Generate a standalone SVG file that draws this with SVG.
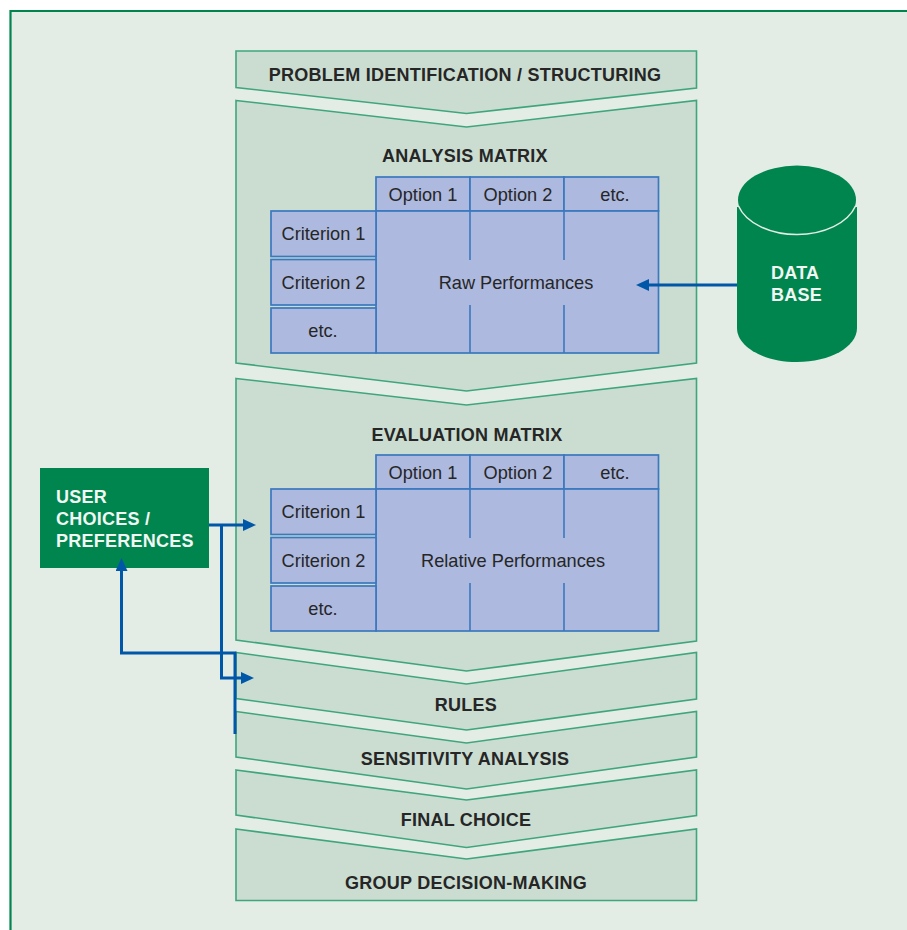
<svg xmlns="http://www.w3.org/2000/svg" width="907" height="930" viewBox="0 0 907 930">
<style>
text{font-family:"Liberation Sans",Arial,sans-serif;fill:#262626;text-anchor:middle}
.h{font-size:18px;font-weight:bold;letter-spacing:.25px}
.c{font-size:18.200px}
.w{font-size:18px;font-weight:bold;letter-spacing:.25px;fill:#f2f7f3;text-anchor:start}
.s{fill:#cbddd1;stroke:#3fa67c;stroke-width:1.6}
.b{fill:#adb9de;stroke:#3a78bf;stroke-width:1.7}
.d{fill:none;stroke:#3a78bf;stroke-width:1.6}
.g{fill:#00854f}
.a{fill:none;stroke:#0057a8;stroke-width:3}
</style>
<defs>
<marker id="ah" markerUnits="userSpaceOnUse" markerWidth="14" markerHeight="13" refX="7" refY="6" orient="auto"><path d="M0 0L13 6L0 12z" fill="#0057a8"/></marker>
<g id="matrix">
<rect class="b" x="376" y="177" width="94" height="34"/><rect class="b" x="470" y="177" width="94" height="34"/><rect class="b" x="564" y="177" width="94.500" height="34"/>
<rect class="b" x="376" y="211" width="282.500" height="142"/>
<rect class="b" x="271" y="211" width="105" height="45.500"/><rect class="b" x="271" y="259.500" width="105" height="45.500"/><rect class="b" x="271" y="308" width="105" height="45"/>
<path class="d" d="M470 211V260M564 211V260M470 305V353M564 305V353"/>
<text class="c" x="423" y="201">Option 1</text><text class="c" x="518" y="201">Option 2</text><text class="c" x="615" y="201">etc.</text>
<text class="c" x="323.500" y="240">Criterion 1</text><text class="c" x="323.500" y="288.500">Criterion 2</text><text class="c" x="323" y="337">etc.</text>
</g>
</defs>
<rect width="907" height="930" fill="#fff"/>
<path d="M10.500 930V11H907V930z" fill="#e3ede5"/>
<path d="M10.500 930V11H907" fill="none" stroke="#00854f" stroke-width="2.200"/>
<g id="problem"><path class="s" d="M236 51H696.500V88L466.500 113.500L236 87.500z"/><text class="h" x="465" y="81">PROBLEM IDENTIFICATION / STRUCTURING</text></g>
<g id="analysis"><path class="s" d="M236 100.500L466.500 127L696.500 100.500V363L466.500 391L236 363z"/><text class="h" x="465" y="162">ANALYSIS MATRIX</text>
<use href="#matrix"/><text class="c" x="516" y="288.500">Raw Performances</text></g>
<g id="evaluation"><path class="s" d="M236 378.500L466.500 405L696.500 378.500V641L466.500 671L236 640z"/><text class="h" x="467" y="441">EVALUATION MATRIX</text>
<use href="#matrix" y="278"/><text class="c" x="513" y="567">Relative Performances</text></g>
<g id="rules"><path class="s" d="M236 652.500L466.500 684L696.500 652.500V699L466.500 730L236 698.500z"/><text class="h" x="466" y="711">RULES</text></g>
<g id="sensitivity"><path class="s" d="M236 711.500L466.500 743L696.500 711.500V757L466.500 789L236 757z"/><text class="h" x="465" y="764.500">SENSITIVITY ANALYSIS</text></g>
<g id="final"><path class="s" d="M236 770L466.500 800L696.500 770V815.500L466.500 847.500L236 815z"/><text class="h" x="466" y="826">FINAL CHOICE</text></g>
<g id="group"><path class="s" d="M236 829L466.500 859L696.500 829V900.500H236z"/><text class="h" x="466" y="889">GROUP DECISION-MAKING</text></g>
<g id="database"><path class="g" d="M737 207H857V328C857 347 830 362 797 362C764 362 737 347 737 328z"/><ellipse class="g" cx="797" cy="200" rx="59" ry="34.500"/><path d="M738.500 206C746 223 770 234.500 797 234.500C824 234.500 848 223 855.500 206" fill="none" stroke="#e3ede5" stroke-width="1.500"/>
<text class="w" x="771" y="279">DATA</text><text class="w" x="771" y="300.500">BASE</text></g>
<g id="user"><rect class="g" x="40" y="468" width="169" height="100"/><text class="w" x="56" y="503">USER</text><text class="w" x="56" y="525">CHOICES /</text><text class="w" x="56" y="546.500">PREFERENCES</text></g>
<g id="connectors">
<path class="a" d="M737 285H642" marker-end="url(#ah)"/>
<path class="a" d="M209 525H250" marker-end="url(#ah)"/>
<path class="a" d="M221.500 525V678H248" marker-end="url(#ah)"/>
<path class="a" d="M235 734V653H121.500V564" marker-end="url(#ah)"/>
</g>
</svg>
